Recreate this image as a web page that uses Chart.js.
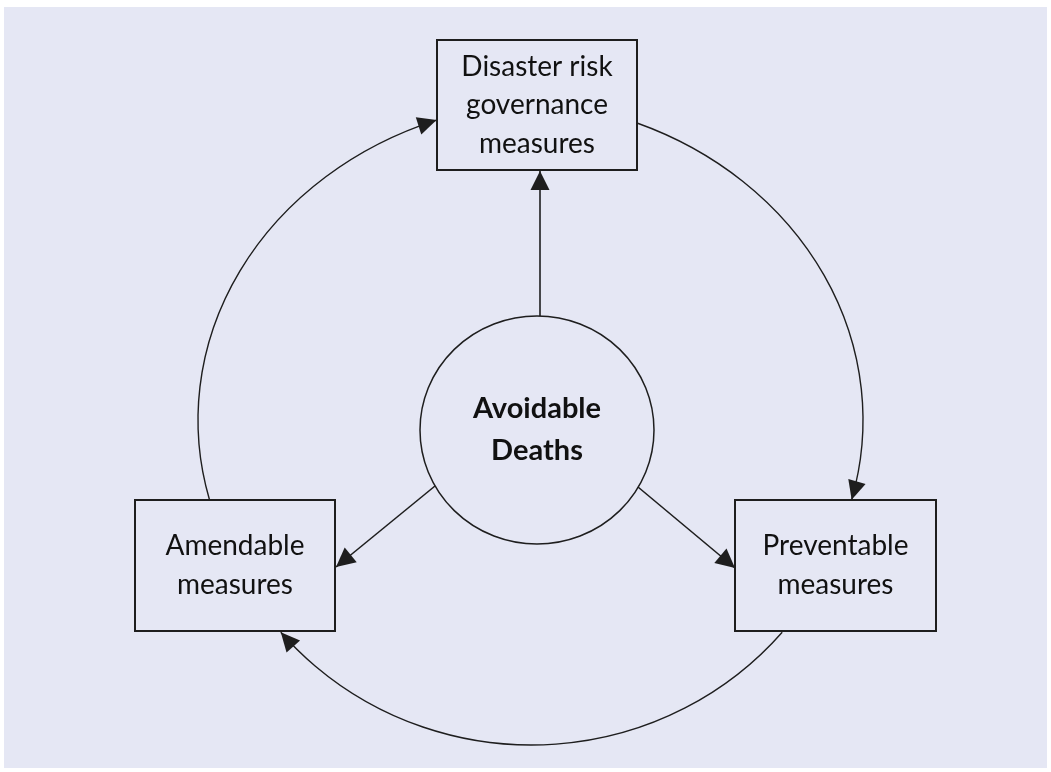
<!DOCTYPE html>
<html>
<head>
<meta charset="utf-8">
<script src="https://cdn.jsdelivr.net/npm/chart.js@4.4.0/dist/chart.umd.min.js"></script>
<style>
  html, body { margin: 0; padding: 0; background: #ffffff; }
  #wrap { width: 1051px; height: 772px; position: relative; }
</style>
</head>
<body>
<div id="wrap"><canvas id="c" width="1051" height="772"></canvas></div>
<script>
// ---- content ----
const nodeLines = [
  ["Disaster risk", "governance", "measures"],
  ["Amendable", "measures"],
  ["Preventable", "measures"]
];
const hubLines = ["Avoidable", "Deaths"];
// hub -> node links (index into nodeLines)
const radialTargets = [0, 1, 2];
// cycle links: [from, to]
const cycleLinks = [[1, 0], [0, 2], [2, 1]];

// ---- layout (diagram units = pixels of the 1051x772 frame) ----
const frame = { x0: 4, y0: 7, x1: 1047, y1: 768 };
const boxes = [
  { x: 437, y: 40, w: 200, h: 130 },
  { x: 135, y: 500, w: 200, h: 131 },
  { x: 735, y: 500, w: 201, h: 131 }
];
const hub = { cx: 537, cy: 430, rx: 117, ry: 114 };
const radialEnds = [
  [[540, 316], [540, 171]],
  [[435, 486], [336, 567]],
  [[638, 487], [735, 568]]
];
const cycleArcs = [
  { cx: 560, cy: 420, rx: 362, ry: 319, from: [207, 500], to: [437, 121] },
  { cx: 503, cy: 420, rx: 360, ry: 320, from: [637, 123], to: [853, 500] },
  { cx: 531.5, cy: 420, rx: 331, ry: 325, from: [782, 632], to: [281, 632] }
];

const LINE = '#1e1e1e';
const BG = 'rgb(229,231,244)';
const FONT = 'Lato, "Open Sans", sans-serif';

function arrowHead(ctx, tipX, tipY, dx, dy, len, half) {
  const m = Math.hypot(dx, dy); dx /= m; dy /= m;
  const bx = tipX - dx * len, by = tipY - dy * len;
  ctx.beginPath();
  ctx.moveTo(tipX, tipY);
  ctx.lineTo(bx - dy * half, by + dx * half);
  ctx.lineTo(bx + dy * half, by - dx * half);
  ctx.closePath();
  ctx.fillStyle = LINE;
  ctx.fill();
}

const diagramPlugin = {
  id: 'diagram',
  beforeDraw(chart) {
    const { ctx, scales: { x, y } } = chart;
    ctx.save();
    ctx.fillStyle = '#ffffff';
    ctx.fillRect(0, 0, chart.width, chart.height);
    ctx.fillStyle = BG;
    const X0 = x.getPixelForValue(frame.x0), Y0 = y.getPixelForValue(frame.y0);
    const X1 = x.getPixelForValue(frame.x1), Y1 = y.getPixelForValue(frame.y1);
    ctx.fillRect(X0, Y0, X1 - X0, Y1 - Y0);
    ctx.restore();
  },
  afterDatasetsDraw(chart) {
    const { ctx, scales: { x, y } } = chart;
    const px = v => x.getPixelForValue(v), py = v => y.getPixelForValue(v);
    ctx.save();
    ctx.strokeStyle = LINE;
    ctx.lineCap = 'butt';

    // cycle arcs
    cycleLinks.forEach((lk, i) => {
      const a = cycleArcs[i];
      const cx = px(a.cx), cy = py(a.cy);
      const rx = px(a.cx + a.rx) - cx, ry = py(a.cy + a.ry) - cy;
      const t0 = Math.atan2((py(a.from[1]) - cy) / ry, (px(a.from[0]) - cx) / rx);
      let t1 = Math.atan2((py(a.to[1]) - cy) / ry, (px(a.to[0]) - cx) / rx);
      while (t1 < t0) t1 += Math.PI * 2;
      ctx.lineWidth = 1.4;
      ctx.beginPath();
      ctx.ellipse(cx, cy, rx, ry, 0, t0, t1, false);
      ctx.stroke();
      const tx = cx + rx * Math.cos(t1), ty = cy + ry * Math.sin(t1);
      arrowHead(ctx, tx, ty, -rx * Math.sin(t1), ry * Math.cos(t1), 19, 9);
    });

    // radial arrowheads
    radialTargets.forEach((t, i) => {
      const [s, e] = radialEnds[i];
      arrowHead(ctx, px(e[0]), py(e[1]), px(e[0]) - px(s[0]), py(e[1]) - py(s[1]), 19, 9.5);
    });

    // hub
    ctx.lineWidth = 1.5;
    ctx.beginPath();
    ctx.ellipse(px(hub.cx), py(hub.cy), px(hub.cx + hub.rx) - px(hub.cx), py(hub.cy + hub.ry) - py(hub.cy), 0, 0, Math.PI * 2);
    ctx.stroke();
    ctx.fillStyle = '#111';
    ctx.textAlign = 'center';
    ctx.textBaseline = 'alphabetic';
    ctx.font = 'bold 29px ' + FONT;
    hubLines.forEach((s, i) => {
      ctx.fillText(s, px(hub.cx), py(hub.cy + (i - (hubLines.length - 1) / 2) * 42 + 9));
    });

    // boxes
    ctx.lineWidth = 2;
    ctx.font = '28px ' + FONT;
    nodeLines.forEach((lines, i) => {
      const b = boxes[i];
      const X = px(b.x), Y = py(b.y), W = px(b.x + b.w) - X, H = py(b.y + b.h) - Y;
      ctx.strokeRect(X, Y, W, H);
      const c = b.y + b.h / 2;
      lines.forEach((s, j) => {
        ctx.fillText(s, px(b.x + b.w / 2), py(c + (j - (lines.length - 1) / 2) * 38.5 + 9));
      });
    });
    ctx.restore();
  }
};

const datasets = radialTargets.map((t, i) => ({
  label: 'Avoidable Deaths → ' + nodeLines[t].join(' '),
  data: radialEnds[i].map(p => ({ x: p[0], y: p[1] })),
  showLine: true,
  borderColor: LINE,
  borderWidth: 1.6,
  pointRadius: 0,
  fill: false
}));

new Chart(document.getElementById('c'), {
  type: 'scatter',
  data: { datasets },
  options: {
    responsive: false,
    animation: false,
    layout: { padding: 0 },
    plugins: { legend: { display: false }, tooltip: { enabled: false } },
    scales: {
      x: { type: 'linear', min: 0, max: 1051, display: false },
      y: { type: 'linear', min: 0, max: 772, reverse: true, display: false }
    }
  },
  plugins: [diagramPlugin]
});
</script>
</body>
</html>
